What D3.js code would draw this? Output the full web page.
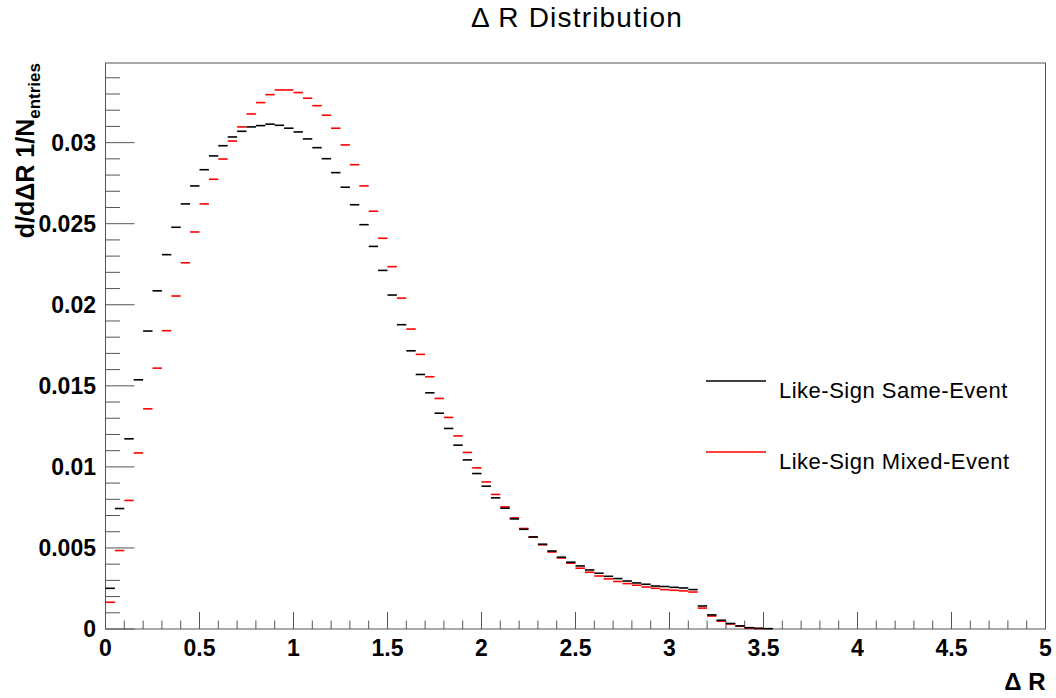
<!DOCTYPE html>
<html>
<head>
<meta charset="utf-8">
<script src="https://cdn.jsdelivr.net/npm/d3@7"></script>
<style>
  html, body { margin: 0; padding: 0; background: #fff; }
  svg text { font-family: "Liberation Sans", Arial, Helvetica, sans-serif; }
</style>
</head>
<body>
<div id="container"></div>
<script>
/* ---------------- DATA ---------------- */
const binWidth = 0.05;
const xTicks = [0, 0.5, 1, 1.5, 2, 2.5, 3, 3.5, 4, 4.5, 5];
const yTicks = [0, 0.005, 0.01, 0.015, 0.02, 0.025, 0.03];

// Like-Sign Same-Event, one value per bin starting at 0
const sameEvent = [
  0.00251, 0.00743, 0.01173, 0.01537, 0.01838, 0.02086, 0.02309, 0.02478, 0.02622, 0.02733,
  0.02833, 0.02918, 0.02981, 0.03035, 0.03070, 0.03097, 0.03105, 0.03114, 0.03107, 0.03089,
  0.03066, 0.03023, 0.02969, 0.02901, 0.02815, 0.02725, 0.02617, 0.02494, 0.02360, 0.02212,
  0.02060, 0.01877, 0.01716, 0.01570, 0.01457, 0.01331, 0.01237, 0.01134, 0.01043, 0.00959,
  0.00881, 0.00809, 0.00745, 0.00679, 0.00615, 0.00568, 0.00523, 0.00481, 0.00443, 0.00412,
  0.00389, 0.00364, 0.00344, 0.00325, 0.00311, 0.00296, 0.00284, 0.00276, 0.00265, 0.00262,
  0.00257, 0.00253, 0.00243, 0.00142, 0.00087, 0.00054, 0.00034, 0.00019, 0.00008, 0.00004,
  0.00002
];

// Like-Sign Mixed-Event
const mixedEvent = [
  0.00165, 0.00484, 0.00793, 0.01086, 0.01358, 0.01609, 0.01840, 0.02054, 0.02259, 0.02449,
  0.02622, 0.02774, 0.02899, 0.03010, 0.03097, 0.03177, 0.03247, 0.03296, 0.03325, 0.03325,
  0.03309, 0.03274, 0.03228, 0.03169, 0.03089, 0.02986, 0.02864, 0.02733, 0.02577, 0.02410,
  0.02235, 0.02041, 0.01850, 0.01694, 0.01556, 0.01422, 0.01305, 0.01191, 0.01089, 0.00994,
  0.00907, 0.00830, 0.00753, 0.00685, 0.00620, 0.00566, 0.00519, 0.00475, 0.00438, 0.00406,
  0.00375, 0.00350, 0.00327, 0.00309, 0.00293, 0.00280, 0.00270, 0.00259, 0.00251, 0.00243,
  0.00239, 0.00235, 0.00228, 0.00129, 0.00080, 0.00048, 0.00031, 0.00017, 0.00006, 0.00003
];

const series = [
  { name: "Like-Sign Mixed-Event", values: mixedEvent, color: "#ff0000" },
  { name: "Like-Sign Same-Event", values: sameEvent, color: "#000000" }
];
const legendOrder = ["Like-Sign Same-Event", "Like-Sign Mixed-Event"];

/* ---------------- LAYOUT ---------------- */
const w = 1056, h = 698;
const padL = 105.5, padR = 1045.5, padT = 63, padB = 629;
const axisColor = "#555";

const svg = d3.select("#container").append("svg")
  .attr("width", w)
  .attr("height", h);

const x = d3.scaleLinear().domain([0, 5]).range([padL, padR]);
const y = d3.scaleLinear().domain([0, 0.03325 * 1.05]).range([padB, padT]);

/* ---------------- FRAME ---------------- */
svg.append("rect")
  .attr("x", padL)
  .attr("y", padT)
  .attr("width", padR - padL)
  .attr("height", padB - padT)
  .attr("fill", "none")
  .attr("stroke", axisColor)
  .attr("stroke-width", 1);

/* ---------------- AXES ---------------- */
const xMinor = d3.range(0, 51).map(i => i / 10);
svg.append("g").selectAll("line")
  .data(xMinor)
  .enter().append("line")
  .attr("x1", d => x(d)).attr("x2", d => x(d))
  .attr("y1", padB)
  .attr("y2", (d, i) => padB - (i % 5 === 0 ? 17 : 8.5))
  .attr("stroke", axisColor);

const yMinor = d3.range(0, 35).map(i => i / 1000);
svg.append("g").selectAll("line")
  .data(yMinor)
  .enter().append("line")
  .attr("x1", padL)
  .attr("x2", (d, i) => padL + (i % 5 === 0 ? 29 : 14.5))
  .attr("y1", d => y(d)).attr("y2", d => y(d))
  .attr("stroke", axisColor);

svg.append("g").selectAll("text")
  .data(xTicks)
  .enter().append("text")
  .attr("x", d => x(d))
  .attr("y", 656)
  .attr("text-anchor", "middle")
  .attr("font-size", 23)
  .attr("font-weight", "bold")
  .text(d => d);

svg.append("g").selectAll("text")
  .data(yTicks)
  .enter().append("text")
  .attr("x", 96)
  .attr("y", d => y(d) + 8)
  .attr("text-anchor", "end")
  .attr("font-size", 23)
  .attr("font-weight", "bold")
  .text(d => d);

/* ---------------- TITLES ---------------- */
svg.append("text")
  .attr("x", 577)
  .attr("y", 27)
  .attr("text-anchor", "middle")
  .attr("font-size", 28)
  .attr("letter-spacing", 1.2)
  .text("\u0394 R Distribution");

svg.append("text")
  .attr("x", padR)
  .attr("y", 690)
  .attr("text-anchor", "end")
  .attr("font-size", 24)
  .attr("font-weight", "bold")
  .text("\u0394 R");

const yTitle = svg.append("text")
  .attr("transform", `translate(34,${padT}) rotate(-90)`)
  .attr("text-anchor", "end")
  .attr("font-size", 25)
  .attr("font-weight", "bold");
yTitle.append("tspan").text("d/d\u0394R 1/N");
yTitle.append("tspan")
  .attr("font-size", 17)
  .attr("dy", 6)
  .text("entries");

/* ---------------- HISTOGRAMS ---------------- */
series.forEach(s => {
  svg.append("g").selectAll("line")
    .data(s.values.map((v, i) => ({ lo: i * binWidth, v })).filter(d => d.v > 0))
    .enter().append("line")
    .attr("x1", d => x(d.lo))
    .attr("x2", d => x(d.lo + binWidth))
    .attr("y1", d => y(d.v))
    .attr("y2", d => y(d.v))
    .attr("stroke", s.color)
    .attr("stroke-width", 1.6);
});

/* ---------------- LEGEND ---------------- */
const legend = svg.append("g");
legendOrder.forEach((name, i) => {
  const s = series.find(d => d.name === name);
  const ly = 381 + i * 71;
  legend.append("line")
    .attr("x1", 706).attr("x2", 766)
    .attr("y1", ly).attr("y2", ly)
    .attr("stroke", s.color)
    .attr("stroke-width", 1.6);
  legend.append("text")
    .attr("x", 779)
    .attr("y", ly + 17)
    .attr("font-size", 22)
    .attr("letter-spacing", 0.5)
    .text(name);
});
</script>
</body>
</html>
